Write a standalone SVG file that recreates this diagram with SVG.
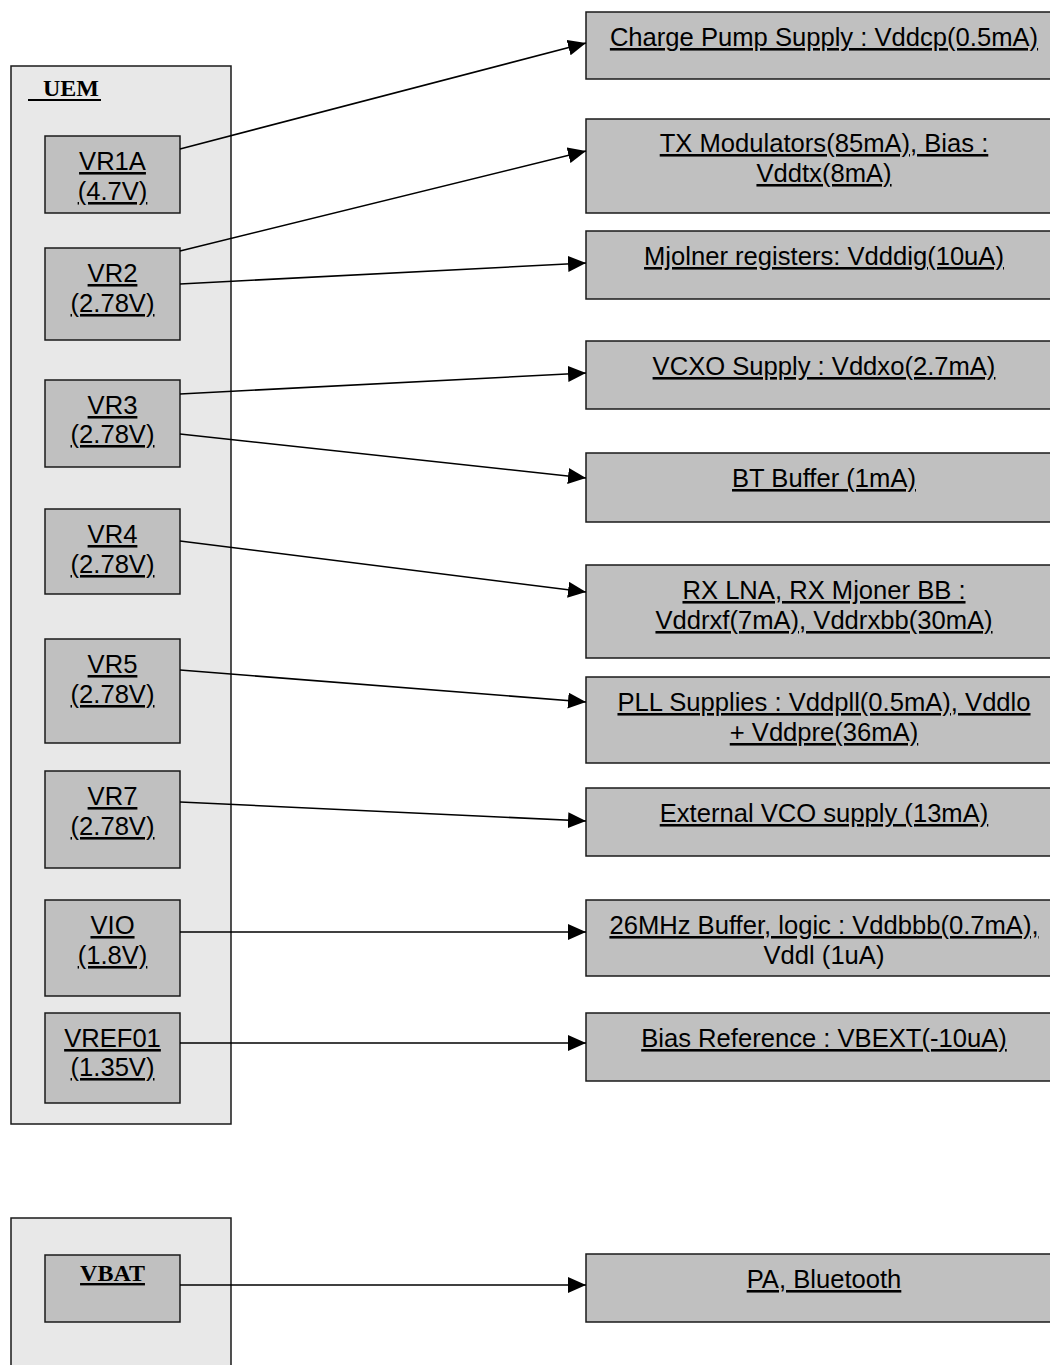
<svg xmlns="http://www.w3.org/2000/svg" width="1050" height="1365" viewBox="0 0 1050 1365">
<style>
.outer{fill:#e8e8e8;stroke:#1a1a1a;stroke-width:1.5}
.box{fill:#c0c0c0;stroke:#1a1a1a;stroke-width:1.5}
.t{font-family:"Liberation Sans",Arial,sans-serif;font-size:25.6px;fill:#000;text-anchor:middle;text-decoration:underline;text-decoration-skip-ink:none;text-decoration-thickness:2px}
.nu{text-decoration:none}
.b{font-family:"Liberation Serif","Times New Roman",serif;font-weight:bold;font-size:24px;fill:#000}
.c{stroke:#000;stroke-width:1.6;fill:none;marker-end:url(#ah)}
</style>
<defs>
<marker id="ah" markerUnits="userSpaceOnUse" markerWidth="19" markerHeight="16" refX="18" refY="8" orient="auto">
<path d="M0,0 L18,8 L0,16 z" fill="#000"/>
</marker>
</defs>
<g id="uem">
<rect class="outer" x="11" y="66" width="220" height="1058"/>
<text class="b" x="43" y="96">UEM</text>
<line x1="28" y1="100" x2="101" y2="100" stroke="#000" stroke-width="2"/>
</g>
<g id="vbat-group">
<rect class="outer" x="11" y="1218" width="220" height="160"/>
</g>
<g id="vr1a"><rect class="box" x="45" y="136" width="135" height="77"/><text class="t" x="112.5" y="170">VR1A</text><text class="t" x="112.5" y="200">(4.7V)</text></g>
<g id="vr2"><rect class="box" x="45" y="248" width="135" height="92"/><text class="t" x="112.5" y="282">VR2</text><text class="t" x="112.5" y="312">(2.78V)</text></g>
<g id="vr3"><rect class="box" x="45" y="380" width="135" height="87"/><text class="t" x="112.5" y="414">VR3</text><text class="t" x="112.5" y="443">(2.78V)</text></g>
<g id="vr4"><rect class="box" x="45" y="509" width="135" height="85"/><text class="t" x="112.5" y="543">VR4</text><text class="t" x="112.5" y="573">(2.78V)</text></g>
<g id="vr5"><rect class="box" x="45" y="639" width="135" height="104"/><text class="t" x="112.5" y="673">VR5</text><text class="t" x="112.5" y="703">(2.78V)</text></g>
<g id="vr7"><rect class="box" x="45" y="771" width="135" height="97"/><text class="t" x="112.5" y="805">VR7</text><text class="t" x="112.5" y="835">(2.78V)</text></g>
<g id="vio"><rect class="box" x="45" y="900" width="135" height="96"/><text class="t" x="112.5" y="934">VIO</text><text class="t" x="112.5" y="964">(1.8V)</text></g>
<g id="vref01"><rect class="box" x="45" y="1013" width="135" height="90"/><text class="t" x="112.5" y="1047">VREF01</text><text class="t" x="112.5" y="1076">(1.35V)</text></g>
<g id="vbat"><rect class="box" x="45" y="1255" width="135" height="67"/><text class="b" x="112.5" y="1281" text-anchor="middle" text-decoration="underline" style="text-decoration-skip-ink:none;text-decoration-thickness:2px">VBAT</text></g>

<g id="cp"><rect class="box" x="586" y="12" width="480" height="67"/><text class="t" x="824" y="46">Charge Pump Supply : Vddcp(0.5mA)</text></g>
<g id="tx"><rect class="box" x="586" y="119" width="480" height="94"/><text class="t" x="824" y="152">TX Modulators(85mA), Bias :</text><text class="t" x="824" y="182">Vddtx(8mA)</text></g>
<g id="mj"><rect class="box" x="586" y="231" width="480" height="68"/><text class="t" x="824" y="265">Mjolner registers: Vdddig(10uA)</text></g>
<g id="vcxo"><rect class="box" x="586" y="341" width="480" height="68"/><text class="t" x="824" y="375">VCXO Supply : Vddxo(2.7mA)</text></g>
<g id="bt"><rect class="box" x="586" y="453" width="480" height="69"/><text class="t" x="824" y="487">BT Buffer (1mA)</text></g>
<g id="rx"><rect class="box" x="586" y="565" width="480" height="93"/><text class="t" x="824" y="599">RX LNA, RX Mjoner BB :</text><text class="t" x="824" y="629">Vddrxf(7mA), Vddrxbb(30mA)</text></g>
<g id="pll"><rect class="box" x="586" y="677" width="480" height="86"/><text class="t" x="824" y="711">PLL Supplies : Vddpll(0.5mA), Vddlo</text><text class="t" x="824" y="741">+ Vddpre(36mA)</text></g>
<g id="vco"><rect class="box" x="586" y="788" width="480" height="68"/><text class="t" x="824" y="822">External VCO supply (13mA)</text></g>
<g id="mhz"><rect class="box" x="586" y="900" width="480" height="76"/><text class="t" x="824" y="934">26MHz Buffer, logic : Vddbbb(0.7mA),</text><text class="t nu" x="824" y="964">Vddl (1uA)</text></g>
<g id="bias"><rect class="box" x="586" y="1013" width="480" height="68"/><text class="t" x="824" y="1047">Bias Reference : VBEXT(-10uA)</text></g>
<g id="pa"><rect class="box" x="586" y="1254" width="480" height="68"/><text class="t" x="824" y="1288">PA, Bluetooth</text></g>

<g id="connectors">
<line class="c" x1="180" y1="149" x2="586" y2="43"/>
<line class="c" x1="180" y1="251" x2="586" y2="151"/>
<line class="c" x1="180" y1="284" x2="586" y2="263"/>
<line class="c" x1="180" y1="394" x2="586" y2="373"/>
<line class="c" x1="180" y1="434" x2="586" y2="478"/>
<line class="c" x1="180" y1="541" x2="586" y2="592"/>
<line class="c" x1="180" y1="670" x2="586" y2="702"/>
<line class="c" x1="180" y1="802" x2="586" y2="821"/>
<line class="c" x1="180" y1="932" x2="586" y2="932"/>
<line class="c" x1="180" y1="1043" x2="586" y2="1043"/>
<line class="c" x1="180" y1="1285" x2="586" y2="1285"/>
</g>
</svg>
